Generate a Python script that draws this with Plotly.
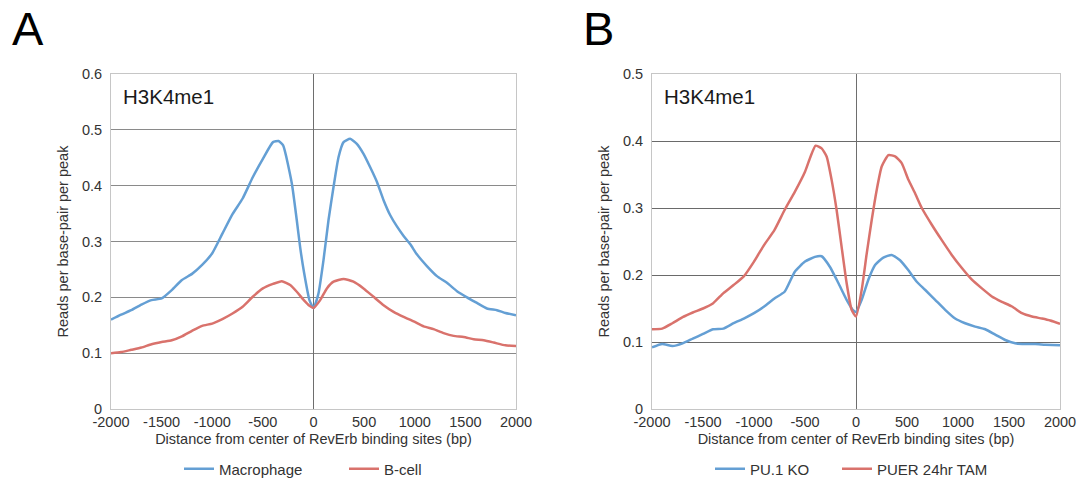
import plotly.graph_objects as go

# ---------------- Data ----------------
# Panel A
mac_x = [-2000,-1900,-1800,-1700,-1600,-1500,-1400,-1300,-1200,-1100,-1000,-900,-800,-700,-600,-500,-400,-345,-300,-214,-165,-132,-92,-40,0,
         49,99,148,198,247,297,362,428,494,560,626,692,758,824,890,956,1021,1120,1219,1318,1417,1516,1614,1713,1812,1895,2000]
mac_y = [0.160,0.169,0.177,0.187,0.195,0.198,0.213,0.231,0.242,0.258,0.279,0.314,0.349,0.377,0.415,0.448,0.478,0.480,0.472,0.404,0.338,0.290,0.243,0.195,0.181,
         0.207,0.267,0.338,0.398,0.451,0.478,0.484,0.475,0.457,0.433,0.407,0.374,0.347,0.327,0.310,0.295,0.277,0.256,0.238,0.226,0.211,0.200,0.190,0.180,0.177,0.172,0.168]

bcell_x = [-2000,-1900,-1800,-1700,-1600,-1500,-1400,-1300,-1200,-1100,-1000,-900,-800,-700,-600,-500,-400,-313,-230,-165,-100,-40,0,
           66,132,198,297,395,494,593,692,791,890,989,1088,1186,1285,1384,1483,1582,1681,1780,1895,2000]
bcell_y = [0.100,0.102,0.106,0.110,0.116,0.120,0.123,0.130,0.140,0.149,0.153,0.161,0.171,0.183,0.201,0.216,0.224,0.229,0.222,0.210,0.196,0.185,0.181,
           0.195,0.216,0.228,0.233,0.228,0.216,0.201,0.186,0.174,0.165,0.157,0.148,0.143,0.136,0.131,0.129,0.125,0.123,0.119,0.114,0.113]

# Panel B
ko_x = [-2000,-1900,-1800,-1700,-1600,-1500,-1400,-1300,-1200,-1100,-1000,-900,-800,-700,-600,-500,-403,-337,-255,-173,-92,-26,0,
        56,121,187,268,350,432,514,596,677,776,874,972,1070,1168,1267,1365,1463,1561,1659,1757,1856,2000]
ko_y = [0.092,0.097,0.094,0.098,0.105,0.112,0.119,0.120,0.128,0.135,0.143,0.153,0.165,0.175,0.205,0.220,0.227,0.228,0.212,0.188,0.163,0.147,0.145,
        0.163,0.193,0.215,0.226,0.230,0.222,0.207,0.190,0.178,0.163,0.148,0.135,0.128,0.123,0.119,0.111,0.103,0.098,0.097,0.097,0.096,0.095]

puer_x = [-2000,-1900,-1800,-1700,-1600,-1500,-1400,-1300,-1200,-1100,-1000,-900,-800,-700,-600,-500,-445,-396,-337,-288,-239,-190,-141,-92,-43,0,
          56,105,154,203,252,318,383,448,514,579,645,743,841,939,1040,1136,1234,1332,1430,1529,1627,1725,1823,1905,2000]
puer_y = [0.119,0.120,0.128,0.137,0.144,0.150,0.158,0.173,0.185,0.198,0.220,0.245,0.267,0.297,0.324,0.354,0.377,0.393,0.389,0.377,0.342,0.297,0.242,0.188,0.148,0.138,
          0.178,0.232,0.282,0.327,0.362,0.379,0.377,0.367,0.342,0.322,0.300,0.275,0.252,0.230,0.210,0.193,0.180,0.168,0.160,0.153,0.143,0.138,0.135,0.132,0.127]

x_ticks = [-2000, -1500, -1000, -500, 0, 500, 1000, 1500, 2000]
x_tick_text = ["-2000", "-1500", "-1000", "-500", "0", "500", "1000", "1500", "2000"]

BLUE = "#649fd4"
RED = "#d9726c"
W, H = 1079, 481
FONT = "Liberation Sans, Arial, sans-serif"
TXT = "#333333"


def px(p):
    return p / W


def py(p):
    return 1 - p / H


fig = go.Figure()
line_kw = dict(width=2.5, shape="spline", smoothing=0.5)
fig.add_trace(go.Scatter(x=mac_x, y=mac_y, mode="lines", name="Macrophage",
                         line=dict(color=BLUE, **line_kw), xaxis="x", yaxis="y", legend="legend"))
fig.add_trace(go.Scatter(x=bcell_x, y=bcell_y, mode="lines", name="B-cell",
                         line=dict(color=RED, **line_kw), xaxis="x", yaxis="y", legend="legend2"))
fig.add_trace(go.Scatter(x=ko_x, y=ko_y, mode="lines", name="PU.1 KO",
                         line=dict(color=BLUE, **line_kw), xaxis="x2", yaxis="y2", legend="legend3"))
fig.add_trace(go.Scatter(x=puer_x, y=puer_y, mode="lines", name="PUER 24hr TAM",
                         line=dict(color=RED, **line_kw), xaxis="x2", yaxis="y2", legend="legend4"))


def xax(domain, anchor):
    return dict(domain=domain, anchor=anchor, range=[-2000, 2000], tickvals=x_ticks, ticktext=x_tick_text,
                showgrid=False, showline=True, linecolor="#c6c6c6", linewidth=1, mirror=True,
                zeroline=True, zerolinecolor="#6e6e6e", zerolinewidth=1, ticks="", automargin=False,
                tickfont=dict(size=14.5, color=TXT), ticklabelstandoff=0,
                title=dict(text="Distance from center of RevErb binding sites (bp)",
                           font=dict(size=14.5, color=TXT), standoff=4))


def yax(domain, anchor, top, gridcolor):
    return dict(domain=domain, anchor=anchor, range=[0, top], dtick=0.1, tick0=0,
                showgrid=True, gridcolor=gridcolor, gridwidth=1,
                showline=True, linecolor="#c6c6c6", linewidth=1, mirror=True, automargin=False,
                zeroline=False, ticks="", tickfont=dict(size=14.5, color=TXT),
                ticklabelstandoff=5,
                title=dict(text="Reads per base-pair per peak", font=dict(size=14.5, color=TXT), standoff=9))


def leg(x_px):
    return dict(orientation="h", x=px(x_px), xanchor="left", y=py(469), yanchor="middle",
                font=dict(size=15, color=TXT), itemwidth=30, bgcolor="rgba(0,0,0,0)")


ydom = [py(409), py(74)]
fig.update_layout(
    width=W, height=H,
    margin=dict(l=0, r=0, t=0, b=0, autoexpand=False),
    paper_bgcolor="white", plot_bgcolor="white",
    font=dict(family=FONT, color=TXT),
    xaxis=xax([px(111), px(516)], "y"),
    yaxis=yax(ydom, "x", 0.6, "#8a8a8a"),
    xaxis2=xax([px(652), px(1060)], "y2"),
    yaxis2=yax(ydom, "x2", 0.5, "#6a6a6a"),
    legend=leg(179),
    legend2=leg(344),
    legend3=leg(710),
    legend4=leg(837),
    showlegend=True,
    annotations=[
        dict(text="A", x=px(10), y=py(29), xref="paper", yref="paper", xanchor="left", yanchor="middle",
             showarrow=False, font=dict(size=47, color="black")),
        dict(text="B", x=px(581), y=py(29), xref="paper", yref="paper", xanchor="left", yanchor="middle",
             showarrow=False, font=dict(size=47, color="black")),
        dict(text="H3K4me1", x=px(121), y=py(97), xref="paper", yref="paper", xanchor="left", yanchor="middle",
             showarrow=False, font=dict(size=20.5, color="#1a1a1a")),
        dict(text="H3K4me1", x=px(662), y=py(97), xref="paper", yref="paper", xanchor="left", yanchor="middle",
             showarrow=False, font=dict(size=20.5, color="#1a1a1a")),
    ],
)

# The page's default 8px body margin would shift and clip the fixed-size figure.
fig.write_html("out.html", config={"displayModeBar": False},
               post_script="document.body.style.margin='0';")
